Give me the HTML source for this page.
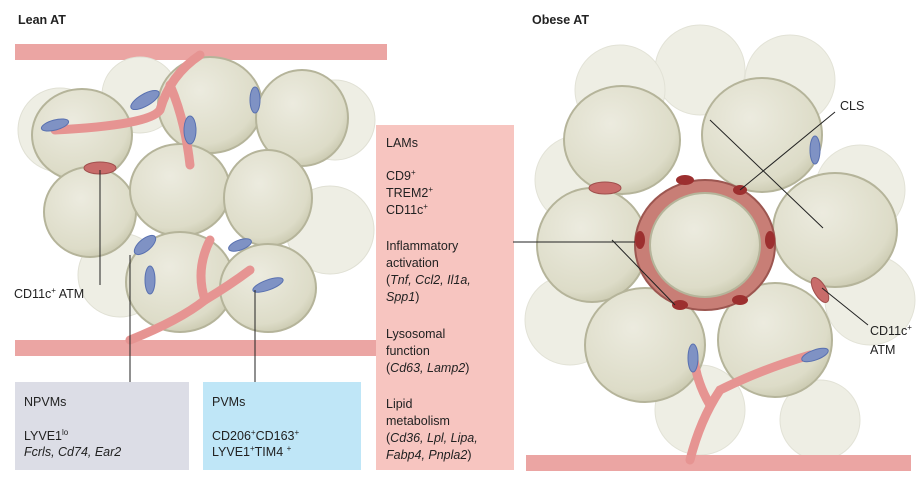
<!DOCTYPE html>
<html><head><meta charset="utf-8"><style>
body{margin:0;background:#fff;width:923px;height:480px;overflow:hidden;font-family:"Liberation Sans",sans-serif}
svg{display:block}
text{font-family:"Liberation Sans",sans-serif;font-size:12.5px;fill:#222}
.it{font-style:italic}
</style></head><body>
<svg width="923" height="480" viewBox="0 0 923 480">
<defs>
<radialGradient id="cg" cx="40%" cy="35%" r="70%"><stop offset="0" stop-color="#ecebdf"/><stop offset="0.8" stop-color="#dddcc8"/><stop offset="1" stop-color="#c9c8ae"/></radialGradient>
</defs>
<!-- Lean -->
<text x="18" y="24" font-weight="bold" font-size="13">Lean AT</text>
<rect x="15" y="44" width="372" height="16" fill="#eba5a3"/>
<rect x="15" y="340" width="372" height="16" fill="#eba5a3"/>
<g fill="#eeeee4" stroke="#e0e0d4">
<circle cx="60" cy="130" r="42"/><circle cx="330" cy="230" r="44"/><circle cx="120" cy="275" r="42"/><circle cx="335" cy="120" r="40"/><circle cx="140" cy="95" r="38"/>
</g>
<g fill="url(#cg)" stroke="#b5b49a" stroke-width="2">
<ellipse cx="82" cy="135" rx="50" ry="46"/>
<ellipse cx="210" cy="105" rx="52" ry="48"/>
<ellipse cx="302" cy="118" rx="46" ry="48"/>
<ellipse cx="90" cy="212" rx="46" ry="45"/>
<ellipse cx="180" cy="190" rx="50" ry="46"/>
<ellipse cx="268" cy="198" rx="44" ry="48"/>
<ellipse cx="180" cy="282" rx="54" ry="50"/>
<ellipse cx="268" cy="288" rx="48" ry="44"/>
</g>
<g fill="none" stroke="#e69492" stroke-width="9" stroke-linecap="round">
<path d="M200 55 Q170 75 160 110 Q150 125 55 130"/>
<path d="M170 85 Q185 120 190 165"/>
<path d="M130 340 Q180 320 205 300 Q230 285 250 270"/>
<path d="M205 300 Q195 270 210 240"/>
</g>
<g fill="#7f92c4" stroke="#5870b0">
<ellipse cx="145" cy="100" rx="16" ry="6" transform="rotate(-30 145 100)"/>
<ellipse cx="55" cy="125" rx="14" ry="5" transform="rotate(-15 55 125)"/>
<ellipse cx="190" cy="130" rx="6" ry="14"/>
<ellipse cx="255" cy="100" rx="5" ry="13"/>
<ellipse cx="145" cy="245" rx="13" ry="6" transform="rotate(-40 145 245)"/>
<ellipse cx="240" cy="245" rx="12" ry="5" transform="rotate(-20 240 245)"/>
<ellipse cx="268" cy="285" rx="16" ry="5" transform="rotate(-20 268 285)"/>
<ellipse cx="150" cy="280" rx="5" ry="14"/>
</g>
<ellipse cx="100" cy="168" rx="16" ry="6" fill="#c86c6a" stroke="#a04f4d"/>
<g stroke="#222" stroke-width="1" fill="none">
<line x1="100" y1="170" x2="100" y2="285"/>
<line x1="130" y1="255" x2="130" y2="382"/>
<line x1="255" y1="290" x2="255" y2="382"/>
</g>
<text x="14" y="298">CD11c<tspan font-size="8" dy="-5">+</tspan><tspan dy="5"> ATM</tspan></text>
<rect x="15" y="382" width="174" height="88" fill="#dcdde6"/>
<text x="24" y="406">NPVMs</text>
<text x="24" y="440">LYVE1<tspan font-size="8" dy="-5">lo</tspan></text>
<text x="24" y="456" class="it">Fcrls, Cd74, Ear2</text>
<rect x="203" y="382" width="158" height="88" fill="#bfe6f7"/>
<text x="212" y="406">PVMs</text>
<text x="212" y="440">CD206<tspan font-size="8" dy="-5">+</tspan><tspan dy="5">CD163</tspan><tspan font-size="8" dy="-5">+</tspan></text>
<text x="212" y="456">LYVE1<tspan font-size="8" dy="-5">+</tspan><tspan dy="5">TIM4 </tspan><tspan font-size="8" dy="-5">+</tspan></text>
<!-- LAMs box -->
<rect x="376" y="125" width="138" height="345" fill="#f7c5c0"/>
<g font-size="12.5">
<text x="386" y="147">LAMs</text>
<text x="386" y="180">CD9<tspan font-size="8" dy="-5">+</tspan></text>
<text x="386" y="197">TREM2<tspan font-size="8" dy="-5">+</tspan></text>
<text x="386" y="214">CD11c<tspan font-size="8" dy="-5">+</tspan></text>
<text x="386" y="250">Inflammatory</text>
<text x="386" y="267">activation</text>
<text x="386" y="284" class="it"><tspan font-style="normal">(</tspan>Tnf, Ccl2, Il1a,</text>
<text x="386" y="301" class="it">Spp1<tspan font-style="normal">)</tspan></text>
<text x="386" y="338">Lysosomal</text>
<text x="386" y="355">function</text>
<text x="386" y="372" class="it"><tspan font-style="normal">(</tspan>Cd63, Lamp2<tspan font-style="normal">)</tspan></text>
<text x="386" y="408">Lipid</text>
<text x="386" y="425">metabolism</text>
<text x="386" y="442" class="it"><tspan font-style="normal">(</tspan>Cd36, Lpl, Lipa,</text>
<text x="386" y="459" class="it">Fabp4, Pnpla2<tspan font-style="normal">)</tspan></text>
</g>
<!-- Obese -->
<text x="532" y="24" font-weight="bold" font-size="13">Obese AT</text>
<g fill="#eeeee4" stroke="#e2e2d6">
<circle cx="700" cy="70" r="45"/><circle cx="620" cy="90" r="45"/><circle cx="790" cy="80" r="45"/><circle cx="580" cy="180" r="45"/><circle cx="860" cy="190" r="45"/><circle cx="570" cy="320" r="45"/><circle cx="870" cy="300" r="45"/><circle cx="700" cy="410" r="45"/><circle cx="820" cy="420" r="40"/>
</g>
<rect x="526" y="455" width="385" height="16" fill="#eba5a3"/>
<g fill="url(#cg)" stroke="#b5b49a" stroke-width="2">
<ellipse cx="622" cy="140" rx="58" ry="54"/>
<ellipse cx="762" cy="135" rx="60" ry="57"/>
<ellipse cx="592" cy="245" rx="55" ry="57"/>
<ellipse cx="835" cy="230" rx="62" ry="57"/>
<ellipse cx="645" cy="345" rx="60" ry="57"/>
<ellipse cx="775" cy="340" rx="57" ry="57"/>
</g>
<ellipse cx="705" cy="245" rx="70" ry="65" fill="#c87e76" stroke="#9c5650" stroke-width="2"/>
<ellipse cx="705" cy="245" rx="55" ry="52" fill="url(#cg)" stroke="#b5b49a" stroke-width="2"/>
<g fill="#9c2f2f">
<ellipse cx="640" cy="240" rx="5" ry="9"/><ellipse cx="685" cy="180" rx="9" ry="5"/><ellipse cx="740" cy="190" rx="7" ry="5"/><ellipse cx="770" cy="240" rx="5" ry="9"/><ellipse cx="740" cy="300" rx="8" ry="5"/><ellipse cx="680" cy="305" rx="8" ry="5"/>
</g>
<g fill="none" stroke="#e69492" stroke-width="9" stroke-linecap="round">
<path d="M690 460 Q700 420 720 390 Q760 370 810 355"/>
<path d="M710 405 Q695 380 693 350"/>
</g>
<g fill="#7f92c4" stroke="#5870b0">
<ellipse cx="815" cy="150" rx="5" ry="14"/><ellipse cx="693" cy="358" rx="5" ry="14"/><ellipse cx="815" cy="355" rx="14" ry="5" transform="rotate(-20 815 355)"/>
</g>
<g fill="#c86c6a" stroke="#a04f4d">
<ellipse cx="605" cy="188" rx="16" ry="6"/><ellipse cx="820" cy="290" rx="6" ry="14" transform="rotate(-30 820 290)"/>
</g>
<g stroke="#222" stroke-width="1" fill="none">
<path d="M513 242 L635 242"/>
<path d="M612 240 L675 305"/>
<path d="M710 120 L823 228"/>
<path d="M740 190 L835 112"/>
<path d="M822 288 L868 325"/>
</g>
<text x="840" y="110">CLS</text>
<text x="870" y="335">CD11c<tspan font-size="8" dy="-5">+</tspan></text>
<text x="870" y="354">ATM</text>
</svg>
</body></html>
